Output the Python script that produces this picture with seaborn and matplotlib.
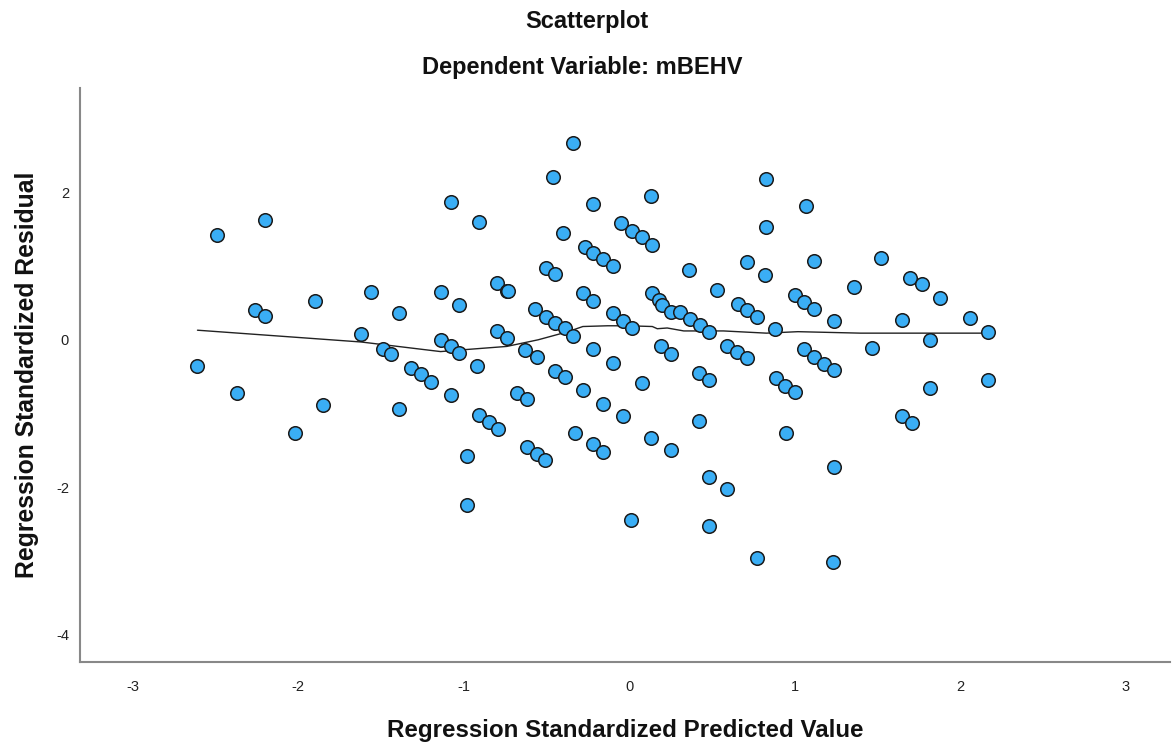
import matplotlib
matplotlib.use("Agg")
import matplotlib.pyplot as plt
import seaborn as sns
import pandas as pd

# Regression standardized predicted values (x) and residuals (y)
pred = [-2.61, -2.49, -2.37, -2.26, -2.20, -2.20, -2.02, -1.90, -1.85, -1.62,
        -1.56, -1.49, -1.44, -1.39, -1.39, -1.32, -1.26, -1.20, -1.14, -1.14,
        -1.08, -1.08, -1.08, -1.03, -1.03, -0.98, -0.98, -0.91, -0.92, -0.91,
        -0.85, -0.80, -0.80, -0.79, -0.74, -0.73, -0.74, -0.68, -0.63, -0.62,
        -0.62, -0.57, -0.56, -0.56, -0.51, -0.50, -0.50, -0.46, -0.45, -0.45,
        -0.45, -0.40, -0.39, -0.39, -0.34, -0.34, -0.33, -0.28, -0.28, -0.27,
        -0.22, -0.22, -0.22, -0.22, -0.22, -0.16, -0.16, -0.16, -0.10, -0.10,
        -0.10, -0.05, -0.04, -0.04, 0.01, 0.02, 0.02, 0.08, 0.08, 0.13,
        0.14, 0.14, 0.13, 0.18, 0.19, 0.20, 0.25, 0.25, 0.25, 0.31,
        0.36, 0.37, 0.42, 0.42, 0.43, 0.48, 0.48, 0.48, 0.48, 0.53,
        0.59, 0.59, 0.65, 0.66, 0.71, 0.71, 0.71, 0.77, 0.77, 0.82,
        0.83, 0.83, 0.88, 0.89, 0.94, 0.95, 1.00, 1.00, 1.06, 1.06,
        1.07, 1.12, 1.12, 1.12, 1.18, 1.24, 1.24, 1.24, 1.23, 1.36,
        1.47, 1.52, 1.65, 1.65, 1.70, 1.71, 1.77, 1.82, 1.82, 1.88,
        2.06, 2.17, 2.17]
resid = [-0.35, 1.42, -0.72, 0.41, 0.32, 1.63, -1.26, 0.52, -0.88, 0.08,
         0.65, -0.12, -0.19, 0.37, -0.94, -0.38, -0.47, -0.57, 0.65, 0.00,
         1.87, -0.09, -0.75, 0.47, -0.18, -1.57, -2.24, 1.60, -0.35, -1.02,
         -1.11, 0.77, 0.12, -1.21, 0.66, 0.66, 0.03, -0.72, -0.14, -0.80,
         -1.45, 0.42, -0.24, -1.55, -1.63, 0.98, 0.31, 2.21, 0.89, 0.23,
         -0.42, 1.45, 0.16, -0.50, 2.67, 0.05, -1.26, 0.64, -0.68, 1.26,
         1.84, 1.18, 0.52, -0.12, -1.42, 1.10, -0.87, -1.52, 1.00, 0.37,
         -0.31, 1.58, 0.26, -1.04, -2.44, 1.48, 0.16, 1.40, -0.58, 1.95,
         1.29, 0.64, -1.33, 0.54, -0.09, 0.47, 0.38, -0.19, -1.49, 0.38,
         0.95, 0.28, -0.45, -1.10, 0.20, 0.10, -0.55, -1.86, -2.52, 0.68,
         -0.08, -2.03, -0.17, 0.49, 1.06, 0.40, -0.25, 0.31, -2.96, 0.88,
         2.18, 1.53, 0.14, -0.52, -0.62, -1.26, 0.61, -0.71, 0.51, -0.13,
         1.82, 1.07, 0.42, -0.23, -0.33, 0.25, -0.41, -1.72, -3.02, 0.72,
         -0.11, 1.11, 0.27, -1.04, 0.84, -1.13, 0.75, 0.00, -0.65, 0.56,
         0.30, 0.11, -0.54]

# Fit line (loess)
fit_x = [-2.61, -1.62, -1.14, -1.03, -0.74, -0.55, -0.37, -0.28, -0.13, -0.01,
         0.14, 0.17, 0.23, 0.33, 0.57, 0.83, 1.02, 1.40, 2.17]
fit_y = [0.13, -0.03, -0.16, -0.14, -0.09, 0.00, 0.11, 0.18, 0.19, 0.19,
         0.18, 0.15, 0.16, 0.12, 0.12, 0.09, 0.11, 0.09, 0.09]

x_ticks = [-3, -2, -1, 0, 1, 2, 3]
y_ticks = [-4, -2, 0, 2]

df = pd.DataFrame({"pred": pred, "resid": resid})
fit = pd.DataFrame({"x": fit_x, "y": fit_y})

sns.set_theme(style="white")
plt.rcParams["font.family"] = ["Liberation Sans", "DejaVu Sans"]

fig = plt.figure(figsize=(11.72, 7.45), dpi=100)
ax = fig.add_axes([0.0683, 0.1114, 0.93, 0.771])

sns.lineplot(data=fit, x="x", y="y", ax=ax, color="#222222", linewidth=1.0,
             sort=False, zorder=2)
sns.scatterplot(data=df, x="pred", y="resid", ax=ax, s=95, color="#3aaef5",
                edgecolor="#1a1a1a", linewidth=1.1, zorder=3)

ax.set_xlim(-3.32, 3.27)
ax.set_ylim(-4.37, 3.42)
ax.set_xticks(x_ticks)
ax.set_yticks(y_ticks)
ax.set_xticklabels([str(t) for t in x_ticks])
ax.set_yticklabels([str(t) for t in y_ticks])
ax.tick_params(axis="both", length=0, labelsize=10.5, colors="#222222", pad=13)
ax.tick_params(axis="y", pad=8)

for side in ["top", "right"]:
    ax.spines[side].set_visible(False)
for side in ["left", "bottom"]:
    ax.spines[side].set_color("#888888")
    ax.spines[side].set_linewidth(1.5)

ax.set_xlabel("Regression Standardized Predicted Value", fontsize=17.4,
              fontweight="bold", labelpad=18, color="#111111")
ax.set_ylabel("Regression Standardized Residual", fontsize=17.8,
              fontweight="bold", labelpad=12, color="#111111")

fig.text(0.501, 0.971, "Scatterplot", ha="center", va="center", fontsize=17,
         fontweight="bold", color="#111111")
fig.text(0.497, 0.910, "Dependent Variable: mBEHV", ha="center", va="center",
         fontsize=17, fontweight="bold", color="#111111")

fig.savefig("out.png", dpi=100, facecolor="white")
